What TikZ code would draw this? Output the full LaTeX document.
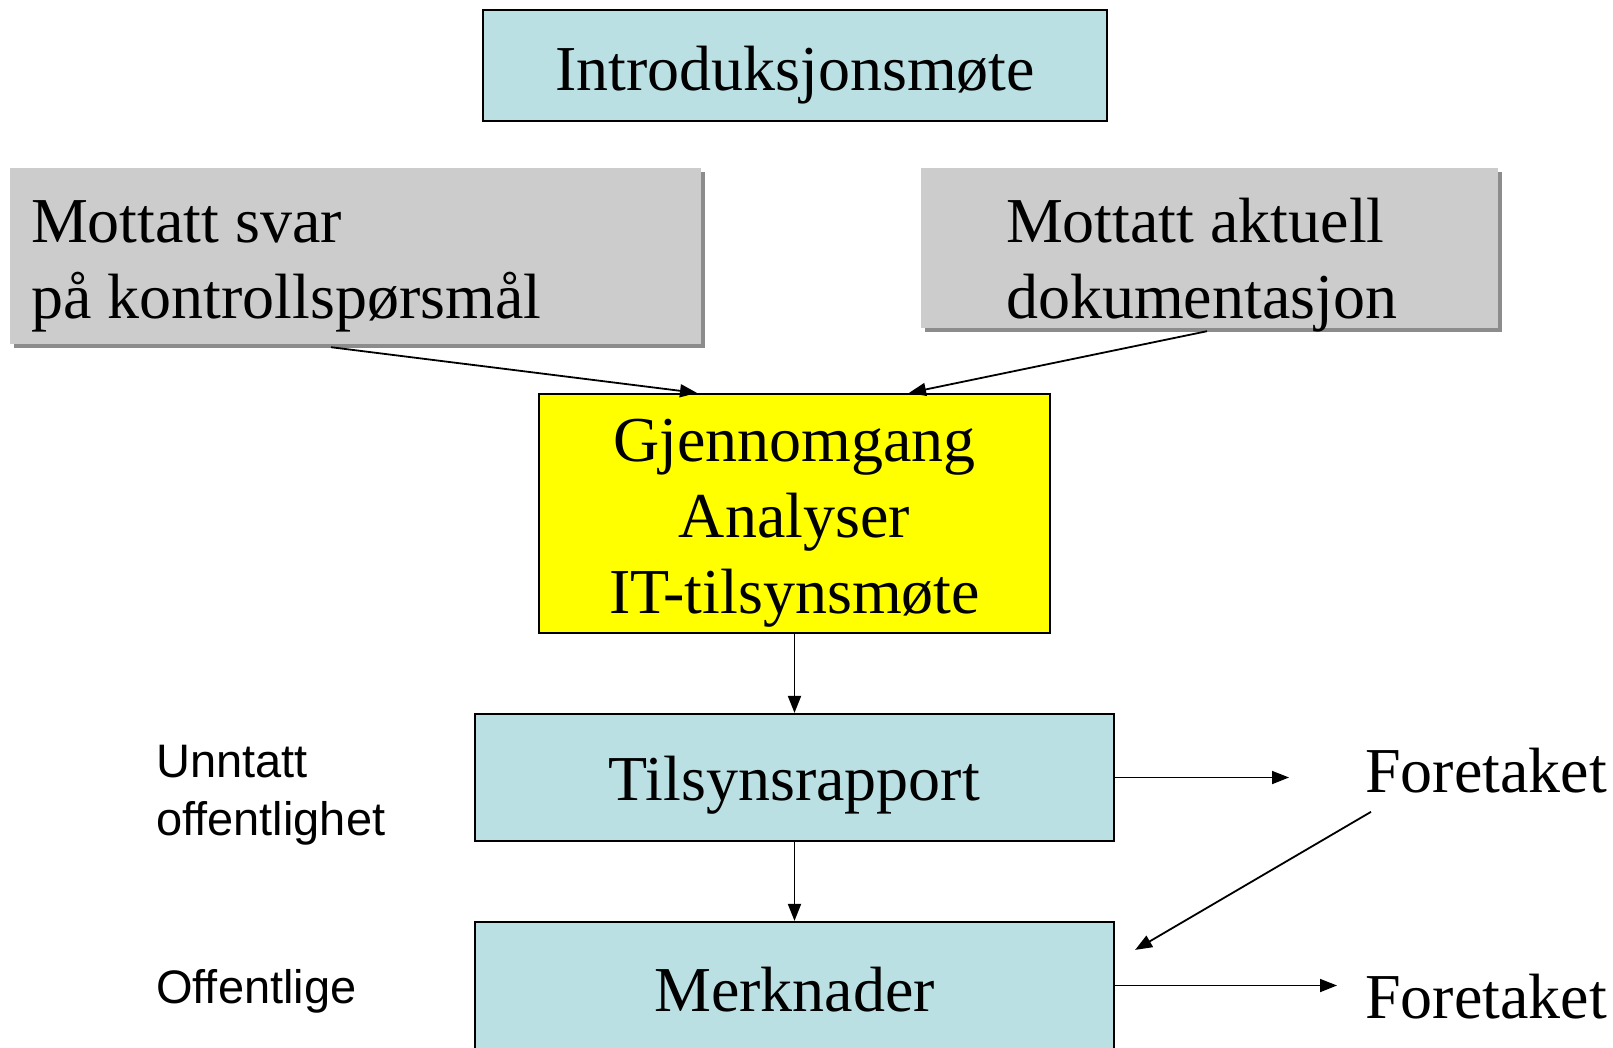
\documentclass[tikz,border=0pt]{standalone}
\usepackage{fontspec}
\setmainfont{Liberation Serif}
\newfontfamily\notefont{Liberation Sans}
\usetikzlibrary{arrows.meta,positioning,shadows}
\definecolor{boxblue}{HTML}{BBE0E3}
\definecolor{boxgray}{HTML}{CCCCCC}
\definecolor{shadegray}{HTML}{8C8C8C}
\definecolor{boxyellow}{HTML}{FFFF00}

\begin{document}
\begin{tikzpicture}[
  x=1pt, y=-1pt,
  >={Triangle[length=17pt,width=13pt]},
  stage/.style={rectangle, draw=black, line width=2.2pt, inner sep=0pt, align=center, font=\fontsize{64}{76}\selectfont},
  inbox/.style={rectangle, fill=boxgray, inner ysep=0pt, align=flush left, font=\fontsize{64}{76}\selectfont, drop shadow={shadow xshift=3.5pt, shadow yshift=-3.5pt, fill=shadegray, opacity=1}},
  receiver/.style={anchor=base west, inner sep=0pt, font=\fontsize{64}{76}\selectfont},
  note/.style={anchor=base west, inner sep=0pt, align=left, font=\notefont\fontsize{47}{58}\selectfont},
  flow/.style={->, draw=black, line width=1.8pt}
]
  \useasboundingbox (0,0) rectangle (1613,1047);

  \node[stage, fill=boxblue, minimum width=624pt, text height=80.5pt, text depth=30.5pt] (intro) at (795,65.5) {Introduksjonsmøte};
  \node[inbox, inner xsep=21pt, text width=649pt, text height=74pt, text depth=102pt] (answers) at (355.5,256) {Mottatt svar\\på kontrollspørsmål};
  \node[inbox, inner xsep=85pt, text width=407pt, text height=74pt, text depth=86pt] (docs) at (1209.5,248) {Mottatt aktuell\\dokumentasjon};
  \node[stage, fill=boxyellow, minimum width=511pt, text height=219pt, text depth=20pt] (review) at (794.5,513.5) {Gjennomgang\\Analyser\\IT-tilsynsmøte};
  \node[stage, fill=boxblue, minimum width=639pt, text height=86pt, text depth=41pt] (report) at (794.5,777.5) {Tilsynsrapport};
  \node[stage, fill=boxblue, minimum width=639pt, text height=89pt, text depth=45pt] (remarks) at (794.5,989) {Merknader};

  \node[receiver] (firm1) at (1365,792) {Foretaket};
  \node[receiver] (firm2) at (1365,1018) {Foretaket};
  \node[note] (closed) at (156,835) {Unntatt\\offentlighet};
  \node[note] (open) at (156,1003) {Offentlige};

  \draw[flow] ([xshift=-24.5pt,yshift=-3pt]answers.south) -- ([xshift=-97.5pt]review.north);
  \draw[flow] ([xshift=-2.5pt,yshift=-3pt]docs.south) -- ([xshift=114.5pt]review.north);
  \draw[flow] (review) -- (report);
  \draw[flow] (report) -- (remarks);
  \draw[flow, shorten >=76pt] (report.east) -- (report.east -| firm1.west);
  \draw[flow, shorten >=28pt] ([yshift=3.5pt]remarks.east) -- ([yshift=3.5pt]remarks.east -| firm2.west);
  \draw[flow] ([xshift=6pt,yshift=-19pt]firm1.south west) -- ([xshift=20pt,yshift=-29pt]remarks.north east);
\end{tikzpicture}
\end{document}
